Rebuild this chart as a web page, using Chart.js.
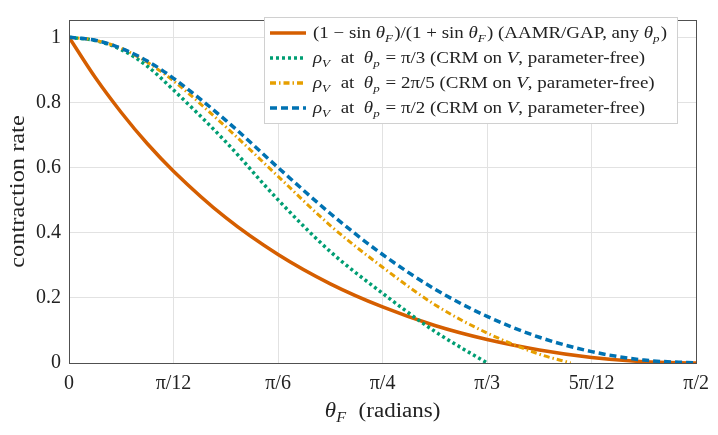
<!DOCTYPE html>
<html>
<head>
<meta charset="utf-8">
<script src="https://cdn.jsdelivr.net/npm/chart.js@4"></script>
<style>
  html, body { margin: 0; padding: 0; background: #fff; }
  #wrap { width: 718px; height: 435px; }
</style>
</head>
<body>
<div id="wrap"><canvas id="myChart" width="718" height="435"></canvas></div>
<script>
// theta_F grid (radians): 0, pi/48, pi/24, 3pi/48, then steps of pi/24
let thetaF = [0, 0.0654, 0.1309, 0.1963, 0.2618, 0.3927, 0.5236, 0.6545, 0.7854, 0.9163, 1.0472, 1.1781, 1.3090, 1.4399, 1.5708];
let thetaGreen = [0, 0.0654, 0.1309, 0.1963, 0.2618, 0.3927, 0.5236, 0.6545, 0.7854, 0.9163, 1.0472];
let thetaYellow = [0, 0.0654, 0.1309, 0.1963, 0.2618, 0.3927, 0.5236, 0.6545, 0.7854, 0.9163, 1.0472, 1.1781, 1.2566];

// values
let aamrRate = [1, 0.877, 0.769, 0.673, 0.589, 0.446, 0.333, 0.243, 0.172, 0.115, 0.072, 0.040, 0.017, 0.004, 0];
let rhoPi3 = [1, 0.990, 0.962, 0.911, 0.838, 0.679, 0.501, 0.342, 0.214, 0.097, 0];
let rho2Pi5 = [1, 0.991, 0.966, 0.923, 0.866, 0.725, 0.573, 0.422, 0.294, 0.179, 0.092, 0.027, 0];
let rhoPi2 = [1, 0.991, 0.966, 0.927, 0.874, 0.745, 0.600, 0.459, 0.333, 0.227, 0.143, 0.079, 0.035, 0.009, 0];

let xTickVals = [0, 0.2618, 0.5236, 0.7854, 1.0472, 1.3090, 1.5708];
let xTickLabels = ['0', 'π/12', 'π/6', 'π/4', 'π/3', '5π/12', 'π/2'];
let yTickVals = [0, 0.2, 0.4, 0.6, 0.8, 1];
let yTickLabels = ['0', '0.2', '0.4', '0.6', '0.8', '1'];

let colors = ['#D55E00', '#009E73', '#E69F00', '#0072B2'];
let serif = '"Liberation Serif", "DejaVu Serif", serif';

function pts(xs, ys) {
    return xs.map((x, i) => ({ x: x, y: ys[i] }));
}

// text with italic letters and subscripts: [text, style] with style '', 'i' or 's'
function fontFor(style, size) {
    if (style === 'i') return 'italic ' + size + 'px ' + serif;
    if (style === 's') return 'italic ' + Math.round(size * 0.7) + 'px ' + serif;
    return size + 'px ' + serif;
}
function richWidth(ctx, parts, size) {
    let w = 0;
    parts.forEach(p => {
        ctx.font = fontFor(p[1], size);
        w += ctx.measureText(p[0]).width + (p[1] === 's' ? 1 : 0);
    });
    return w;
}
function drawRich(ctx, parts, x, y, size, align, sx) {
    let w = richWidth(ctx, parts, size) * sx;
    let x0 = align === 'center' ? x - w / 2 : x;
    ctx.save();
    ctx.translate(x0, y);
    ctx.scale(sx, 1);
    ctx.textBaseline = 'alphabetic';
    ctx.textAlign = 'left';
    let cx = 0;
    parts.forEach(p => {
        ctx.font = fontFor(p[1], size);
        let dy = p[1] === 's' ? size * 0.25 : 0;
        ctx.fillText(p[0], cx, dy);
        cx += ctx.measureText(p[0]).width + (p[1] === 's' ? 1 : 0);
    });
    ctx.restore();
}

let legendRows = [
    [['(1 − sin ', ''], ['θ', 'i'], ['F', 's'], [')/(1 + sin ', ''], ['θ', 'i'], ['F', 's'], [') (AAMR/GAP, any ', ''], ['θ', 'i'], ['p', 's'], [')', '']],
    [['ρ', 'i'], ['V', 's'], ['  at  ', ''], ['θ', 'i'], ['p', 's'], [' = π/3 (CRM on ', ''], ['V', 'i'], [', parameter-free)', '']],
    [['ρ', 'i'], ['V', 's'], ['  at  ', ''], ['θ', 'i'], ['p', 's'], [' = 2π/5 (CRM on ', ''], ['V', 'i'], [', parameter-free)', '']],
    [['ρ', 'i'], ['V', 's'], ['  at  ', ''], ['θ', 'i'], ['p', 's'], [' = π/2 (CRM on ', ''], ['V', 'i'], [', parameter-free)', '']]
];
let legendDash = [[], [3, 3], [6, 3, 1.5, 3], [7, 4]];

let extras = {
    id: 'extras',
    afterDraw(chart) {
        let ctx = chart.ctx;
        let a = chart.chartArea;
        ctx.save();
        // frame
        ctx.strokeStyle = '#505050';
        ctx.lineWidth = 1;
        ctx.setLineDash([]);
        ctx.strokeRect(Math.round(a.left) + 0.5, Math.round(a.top) + 0.5, Math.round(a.right - a.left), Math.round(a.bottom - a.top));

        // legend
        ctx.fillStyle = '#fff';
        ctx.fillRect(264, 17, 413, 106);
        ctx.strokeStyle = '#d0d0d0';
        ctx.strokeRect(264.5, 17.5, 413, 106);
        let legSize = 16;
        let sx = 354 / richWidth(ctx, legendRows[0], legSize);
        let rowY = [33, 58, 83, 108];
        rowY.forEach((y, i) => {
            ctx.strokeStyle = colors[i];
            ctx.lineWidth = 3.5;
            ctx.setLineDash(legendDash[i]);
            ctx.beginPath();
            ctx.moveTo(270, y);
            ctx.lineTo(306, y);
            ctx.stroke();
            ctx.setLineDash([]);
            ctx.fillStyle = '#222';
            drawRich(ctx, legendRows[i], 313, y + 5, legSize, 'left', sx);
        });

        // axis titles
        ctx.fillStyle = '#222';
        drawRich(ctx, [['θ', 'i'], ['F', 's'], ['  (radians)', '']], (a.left + a.right) / 2, 417, 20, 'center', 1.15);
        ctx.translate(24, (a.top + a.bottom) / 2);
        ctx.rotate(-Math.PI / 2);
        ctx.scale(1.22, 1);
        ctx.font = '20px ' + serif;
        ctx.textAlign = 'center';
        ctx.textBaseline = 'alphabetic';
        ctx.fillText('contraction rate', 0, 0);
        ctx.restore();
    }
};

let myChart = document.getElementById('myChart').getContext('2d');

let chart1 = new Chart(myChart, {
    type: 'line',
    data: {
        datasets: [
            {
                label: 'AAMR/GAP',
                data: pts(thetaF, aamrRate),
                borderColor: colors[0],
                borderWidth: 3.5,
                order: 4
            },
            {
                label: 'pi/3',
                data: pts(thetaGreen, rhoPi3),
                borderColor: colors[1],
                borderWidth: 3.5,
                borderDash: [3, 3],
                order: 3
            },
            {
                label: '2pi/5',
                data: pts(thetaYellow, rho2Pi5),
                borderColor: colors[2],
                borderWidth: 3,
                borderDash: [6, 3, 1.5, 3],
                order: 2
            },
            {
                label: 'pi/2',
                data: pts(thetaF, rhoPi2),
                borderColor: colors[3],
                borderWidth: 3.5,
                borderDash: [7, 4],
                order: 1
            }
        ]
    },
    options: {
        responsive: false,
        animation: false,
        parsing: false,
        layout: { padding: { left: 0, top: 7, right: 21, bottom: 0 } },
        elements: {
            point: { radius: 0 },
            line: { cubicInterpolationMode: 'monotone', fill: false }
        },
        plugins: {
            legend: { display: false },
            tooltip: { enabled: false }
        },
        scales: {
            x: {
                type: 'linear',
                min: 0,
                max: 1.5708,
                afterBuildTicks: s => { s.ticks = xTickVals.map(v => ({ value: v })); },
                afterFit: s => { s.height = 72; },
                grid: { color: '#e2e2e2', drawTicks: false },
                border: { display: false },
                ticks: {
                    padding: 9,
                    color: '#222',
                    font: { family: serif, size: 20 },
                    maxRotation: 0,
                    callback: (v, i) => xTickLabels[i]
                }
            },
            y: {
                min: 0,
                max: 1.053,
                afterBuildTicks: s => { s.ticks = yTickVals.map(v => ({ value: v })); },
                afterFit: s => { s.width = 69; },
                grid: { color: '#e2e2e2', drawTicks: false },
                border: { display: false },
                ticks: {
                    padding: 8,
                    color: '#222',
                    font: { family: serif, size: 20 },
                    callback: (v, i) => yTickLabels[i]
                }
            }
        }
    },
    plugins: [extras]
});
</script>
</body>
</html>
